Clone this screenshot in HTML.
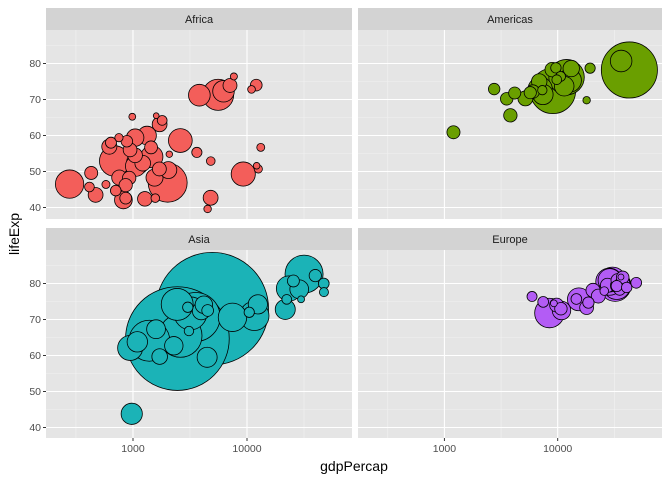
<!DOCTYPE html>
<html><head><meta charset="utf-8"><style>
body{margin:0;background:#fff;font-family:"Liberation Sans",sans-serif}
</style></head><body>
<svg id="c" width="672" height="480" xmlns="http://www.w3.org/2000/svg"></svg>
<script>
const continents=["Africa","Americas","Asia","Europe"];
const colors=["#F35E5A","#6A9F00","#1BB3B7","#B35CF5"];
const xTicks=[1000,10000];
const xTickLabels=["1000","10000"];
const yTicks=[40,50,60,70,80];
const yTickLabels=["40","50","60","70","80"];
// [gdpPercap, lifeExp, pop (millions)]
const africa=[[6223,72.3,33.3],[4797,42.7,12.4],[1441,56.7,8.1],[12570,50.7,1.6],[1217,52.3,14.3],[430,49.6,8.4],[2042,50.4,17.7],[706,44.7,4.4],[1704,50.7,10.2],[986,65.2,0.7],[278,46.5,64.6],[3633,55.3,3.8],[1545,48.3,18.0],[2082,54.8,0.5],[5581,71.3,80.3],[12154,51.6,0.55],[641,58.0,4.9],[691,52.9,76.5],[13206,56.7,1.45],[753,59.4,1.7],[1328,60.0,22.9],[943,56.0,9.9],[579,46.4,1.5],[1463,54.1,35.6],[1569,42.6,2.0],[415,45.7,3.2],[12057,74.0,6.0],[1045,59.4,19.2],[759,48.3,13.3],[1043,54.5,12.0],[1803,64.2,3.3],[10957,72.8,1.25],[3820,71.2,33.8],[824,42.1,20.0],[4811,52.9,2.05],[620,56.9,12.9],[2014,46.9,135],[7670,76.4,0.8],[863,46.2,8.9],[1598,65.5,0.2],[1712,63.1,12.3],[863,42.6,6.1],[926,48.2,9.1],[9270,49.3,44],[2602,58.6,42.3],[4513,39.6,1.1],[1107,52.5,38.1],[883,58.4,5.7],[7093,73.9,10.3],[1056,51.5,29.2],[1271,42.4,11.7],[470,43.5,12.3]];
const americas=[[12779,75.3,40.3],[3822,65.6,9.1],[9066,72.4,190],[36319,80.7,33.4],[13172,78.6,16.3],[7007,72.9,44.2],[9645,78.8,4.1],[8948,78.3,11.4],[6025,72.2,9.3],[6873,75.0,13.8],[5728,71.9,6.9],[5186,70.3,12.6],[1202,60.9,8.5],[3548,70.2,7.5],[7321,72.6,2.8],[11978,76.2,108.7],[2749,72.9,5.7],[9809,75.5,3.2],[4173,71.8,6.7],[7409,71.4,28.7],[19329,78.7,3.9],[18009,69.8,1.06],[42952,78.2,301],[10611,76.4,3.4],[11416,73.7,26.1]];
const asia=[[975,43.8,31.9],[29796,75.6,0.7],[1391,64.1,150.4],[1714,59.7,14.1],[4959,73.0,1318.7],[39725,82.2,6.98],[2452,64.7,1110],[3541,70.7,223.5],[11606,71.0,69.5],[4471,59.5,27.5],[25523,80.7,6.4],[31656,82.6,127.5],[4519,72.5,6.05],[1593,67.3,23.3],[23348,78.6,49],[47307,77.6,2.5],[10461,72.0,3.9],[12452,74.2,24.8],[3096,66.8,2.9],[944,62.1,47.8],[1091,63.8,28.9],[22316,75.6,3.2],[2606,65.5,169.3],[3190,71.7,91.1],[21655,72.8,27.6],[47143,80.0,4.55],[3970,72.4,20.4],[4185,74.1,19.3],[28718,78.4,23.2],[7458,70.6,65.1],[2442,74.2,85.3],[3025,73.4,4.0],[2281,62.7,22.2]];
const europe=[[5937,76.4,3.6],[36126,79.8,8.2],[33693,79.4,10.4],[7446,74.9,4.55],[10681,73.0,7.3],[14619,75.7,4.5],[22833,76.5,10.2],[35278,78.3,5.5],[33207,79.3,5.2],[30470,80.7,61.1],[32170,79.4,82.4],[27538,79.5,10.7],[18009,73.3,10.0],[36181,81.8,0.3],[40676,78.9,4.1],[28570,80.5,58.1],[9254,74.5,0.68],[36798,79.8,16.6],[49357,80.2,4.6],[15390,75.6,38.5],[20510,78.1,10.6],[10808,72.5,22.3],[9787,74.0,10.2],[18678,74.7,5.4],[25768,77.9,2.0],[28821,80.9,40.4],[33860,80.9,9.0],[37506,81.7,7.55],[8458,71.8,71.2],[33203,79.4,60.8]];
const series=[africa,americas,asia,europe];

const svg=document.getElementById('c');
const NS="http://www.w3.org/2000/svg";
function el(t,a,p){const e=document.createElementNS(NS,t);for(const k in a)e.setAttribute(k,a[k]);(p||svg).appendChild(e);return e;}
const panels=[{x:46,y:30,w:306,h:189},{x:358,y:30,w:304,h:189},{x:46,y:250,w:306,h:188},{x:358,y:250,w:304,h:188}];
const xMin=2.237,xMax=4.921;
function xs(p,v){return p.x+(Math.log10(v)-xMin)/(xMax-xMin)*p.w;}
function ys(p,v){return p.y+33.5+(80-v)*3.6;}
function rs(pop){return 2.2+1.49*Math.sqrt(pop);}

panels.forEach((p,i)=>{
  const g=el('g',{});
  
  
  el('rect',{x:p.x,y:p.y,width:p.w,height:p.h,fill:'#E5E5E5'},g);
  const cp=el('clipPath',{id:'cp'+i},g);
  el('rect',{x:p.x,y:p.y,width:p.w,height:p.h},cp);
  [316.2,3162,31623].forEach(v=>el('line',{x1:xs(p,v),x2:xs(p,v),y1:p.y,y2:p.y+p.h,stroke:'#F2F2F2','stroke-width':0.6},g));
  [45,55,65,75,85].forEach(v=>el('line',{x1:p.x,x2:p.x+p.w,y1:ys(p,v),y2:ys(p,v),stroke:'#F2F2F2','stroke-width':0.6},g));
  xTicks.forEach(v=>el('line',{x1:xs(p,v),x2:xs(p,v),y1:p.y,y2:p.y+p.h,stroke:'#fff','stroke-width':1.1},g));
  yTicks.forEach(v=>el('line',{x1:p.x,x2:p.x+p.w,y1:ys(p,v),y2:ys(p,v),stroke:'#fff','stroke-width':1.1},g));
  const strip=el('rect',{x:p.x,y:p.y-22,width:p.w,height:22,fill:'#D3D3D3'},g);
  
  
  const st=el('text',{x:p.x+p.w/2,y:p.y-7,'text-anchor':'middle','font-size':11,fill:'#1A1A1A'},g);
  st.textContent=continents[i];
  
  
  const pts=el('g',{'clip-path':'url(#cp'+i+')'},g);
  const d=series[i].slice().sort((a,b)=>b[2]-a[2]);
  d.forEach(r=>{
    const c=el('circle',{cx:xs(p,r[0]),cy:ys(p,r[1]),r:rs(r[2]),fill:colors[i],stroke:'#000','stroke-width':0.8},pts);
    
    
  });
  if(i>=2){xTicks.forEach((v,k)=>{
    el('line',{x1:xs(p,v),x2:xs(p,v),y1:p.y+p.h,y2:p.y+p.h+3,stroke:'#333'},g);
    const t=el('text',{x:xs(p,v),y:p.y+p.h+14,'text-anchor':'middle','font-size':10.5,fill:'#4D4D4D'},g);
    t.textContent=xTickLabels[k];
    
    
  });}
  if(i%2==0){yTicks.forEach((v,k)=>{
    el('line',{x1:p.x-3,x2:p.x,y1:ys(p,v),y2:ys(p,v),stroke:'#333'},g);
    const t=el('text',{x:p.x-5,y:ys(p,v)+3.5,'text-anchor':'end','font-size':10.5,fill:'#4D4D4D'},g);
    t.textContent=yTickLabels[k];
    
    
  });}
});
const xt=el('text',{x:354,y:471,'text-anchor':'middle','font-size':14,fill:'#000'});
xt.textContent='gdpPercap';


const yt=el('text',{x:0,y:0,'text-anchor':'middle','font-size':14,fill:'#000',transform:'translate(19,234) rotate(-90)'});
yt.textContent='lifeExp';


</script>
</body></html>
